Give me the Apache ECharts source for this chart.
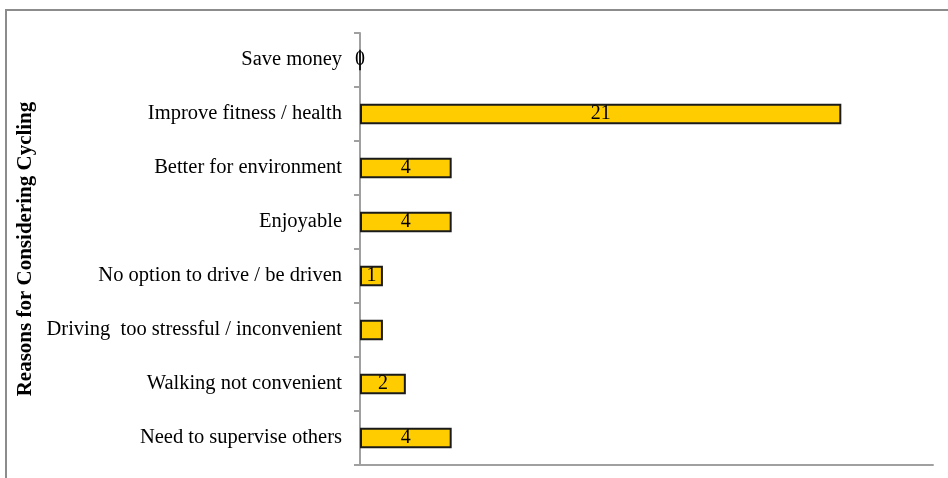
<!DOCTYPE html>
<html>
<head>
<meta charset="utf-8">
<script src="https://cdn.jsdelivr.net/npm/echarts@6/dist/echarts.min.js"></script>
<style>
    html, body { margin: 0; padding: 0; background: #fff; }
    #chart { width: 948px; height: 478px; }
</style>
</head>
<body>
<div id="chart"></div>
<script>
    // categories, top to bottom
    var reasons = [
        'Save money',
        'Improve fitness / health',
        'Better for environment',
        'Enjoyable',
        'No option to drive / be driven',
        'Driving  too stressful / inconvenient',
        'Walking not convenient',
        'Need to supervise others'
    ];
    var counts = [0, 21, 4, 4, 1, 1, 2, 4];
    // which bars carry a value label in the original
    var showLabel = [true, true, true, true, true, false, true, true];

    var chart = echarts.init(document.getElementById('chart'));
    chart.setOption({
        animation: false,
        textStyle: { fontFamily: 'Liberation Serif' },
        graphic: [{
            type: 'rect',
            shape: { x: 6, y: 10, width: 1000, height: 500 },
            style: { fill: 'none', stroke: '#8c8c8c', lineWidth: 2 },
            silent: true
        }],
        grid: { left: 360, right: 15, top: 33, bottom: 13 },
        xAxis: {
            type: 'value',
            min: 0,
            max: 25,
            axisLine: { show: true, lineStyle: { color: '#a0a0a0', width: 2 } },
            axisTick: { show: false },
            axisLabel: { show: false },
            splitLine: { show: false }
        },
        yAxis: {
            type: 'category',
            data: reasons,
            inverse: true,
            name: 'Reasons for Considering Cycling',
            nameLocation: 'middle',
            nameGap: 322,
            nameRotate: 90,
            nameTextStyle: { fontFamily: 'Liberation Serif', fontWeight: 'bold', fontSize: 21, color: '#000' },
            axisLine: { lineStyle: { color: '#a0a0a0', width: 2 } },
            axisTick: { show: true, length: 6, lineStyle: { color: '#a0a0a0', width: 2 } },
            axisLabel: { color: '#000', fontSize: 20.5, margin: 18, fontFamily: 'Liberation Serif' }
        },
        series: [{
            type: 'bar',
            barCategoryGap: '62%',
            data: counts.map(function (v, i) {
                return { value: v, label: { show: showLabel[i] } };
            }),
            itemStyle: { color: '#FFCC00', borderColor: '#1a1a1a', borderWidth: 2 },
            label: {
                show: true,
                position: 'inside',
                color: '#000',
                fontSize: 20,
                fontFamily: 'Liberation Serif'
            }
        }]
    });
</script>
</body>
</html>
